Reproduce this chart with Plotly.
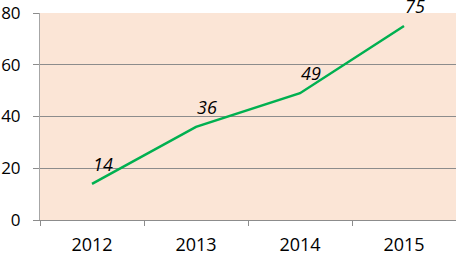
import plotly.graph_objects as go

years = ["2012", "2013", "2014", "2015"]
values = [14, 36, 49, 75]
y_ticks = [0, 20, 40, 60, 80]

fig = go.Figure()
fig.add_trace(go.Scatter(
    x=years, y=values, mode="lines",
    line=dict(color="#00B050", width=2.5),
    hoverinfo="skip", showlegend=False,
))
for i, v in enumerate(values):
    fig.add_annotation(
        x=i, y=v, text="<i>%d</i>" % v, showarrow=False,
        xanchor="center", yanchor="bottom", xshift=11, yshift=6,
        font=dict(family="Open Sans", size=18, color="#000000"),
    )
fig.update_layout(
    width=456, height=256,
    margin=dict(l=40, r=0, t=13, b=36),
    paper_bgcolor="white",
    plot_bgcolor="#FBE5D6",
    font=dict(family="Open Sans", size=18, color="#000000"),
)
fig.update_xaxes(
    type="category", range=[-0.5, 3.5], automargin=False,
    showline=True, linecolor="#8C8C8C", linewidth=1,
    ticks="outside", tickson="boundaries", ticklen=5, tickcolor="#8C8C8C",
    showgrid=False, tickfont=dict(size=18), ticklabelstandoff=8,
)
fig.update_yaxes(
    range=[0, 80], tickvals=y_ticks, automargin=False,
    showline=True, linecolor="#A6A6A6", linewidth=1,
    ticks="outside", ticklen=6, tickcolor="#8C8C8C",
    showgrid=True, gridcolor="#8C8C8C", gridwidth=1,
    zeroline=False, tickfont=dict(size=17), ticklabelstandoff=9,
)
fig.write_html("out.html", config={"displayModeBar": False},
               post_script="document.body.style.margin='0px';")
